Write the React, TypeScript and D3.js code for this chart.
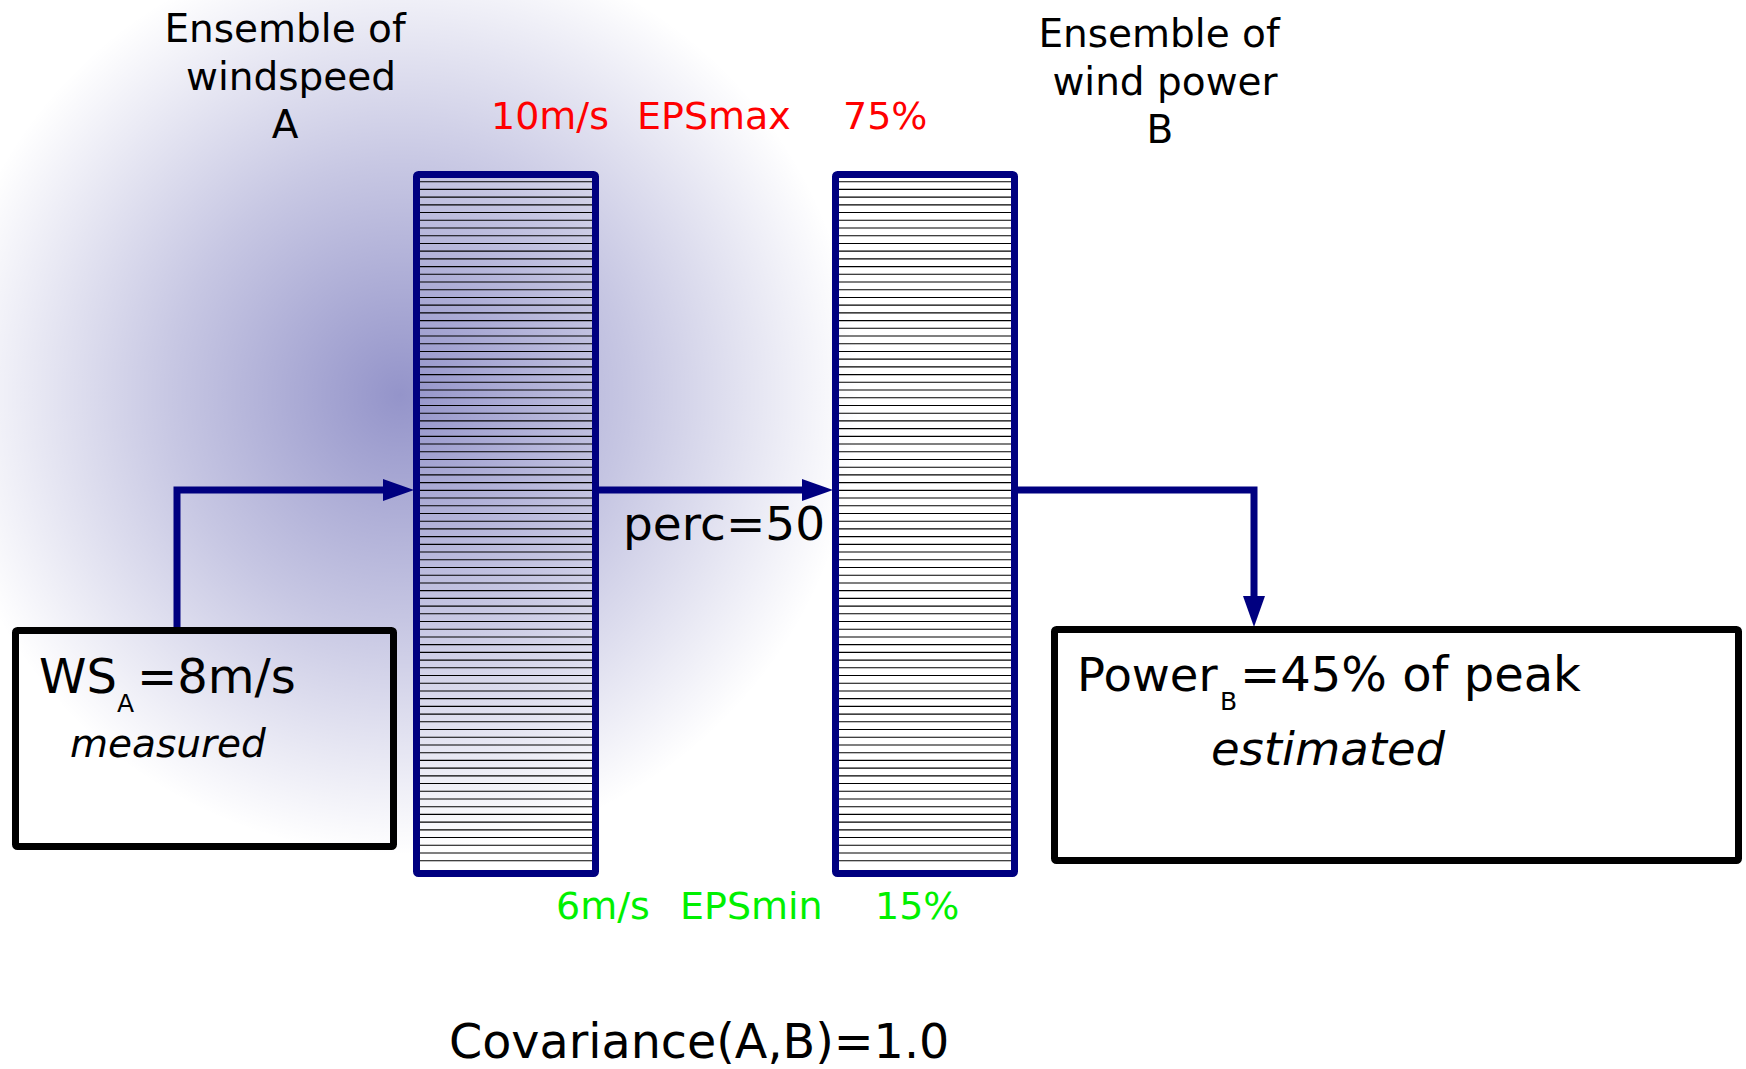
import React from "react";
import * as d3 from "d3";

// ---- content ----
const ensembleA = ["Ensemble of", "windspeed", "A"];
const ensembleB = ["Ensemble of", "wind power", "B"];
const maxLabels = ["10m/s", "EPSmax", "75%"];
const minLabels = ["6m/s", "EPSmin", "15%"];
const percentileLabel = "perc=50";
const measuredWS = "=8m/s";
const estimatedPower = "=45% of peak";
const covarianceLabel = "Covariance(A,B)=1.0";
const hatchCount = 89;

const W = 1746;
const H = 1069;
const NAVY = "#000080";
const FONT = "'DejaVu Sans', Verdana, sans-serif";

function Hatch({ x0, x1, y0, y1 }: { x0: number; x1: number; y0: number; y1: number }) {
  const y = d3.scaleLinear().domain([0, hatchCount - 1]).range([y0, y1]);
  return (
    <g>
      {d3.range(hatchCount).map((i) => (
        <line key={i} x1={x0} x2={x1} y1={y(i)} y2={y(i)} stroke="#000" strokeWidth={1.1} />
      ))}
    </g>
  );
}

function Arrow({ pts, tip, dir }: { pts: [number, number][]; tip: [number, number]; dir: "right" | "down" }) {
  const line = d3.line();
  const L = 31, hw = 11;
  const [tx, ty] = tip;
  const head: [number, number][] =
    dir === "right"
      ? [[tx, ty], [tx - L, ty - hw], [tx - L, ty + hw]]
      : [[tx, ty], [tx - hw, ty - L], [tx + hw, ty - L]];
  return (
    <g>
      <path d={line(pts) || ""} fill="none" stroke={NAVY} strokeWidth={7} strokeLinejoin="miter" />
      <path d={(line(head) || "") + "Z"} fill={NAVY} stroke="none" />
    </g>
  );
}

export default function App() {
  return (
    <svg
      width={W}
      height={H}
      viewBox={`0 0 ${W} ${H}`}
      style={{ position: "absolute", left: 0, top: 0, display: "block", background: "#fff" }}
      fontFamily={FONT}
    >
      <defs>
        <radialGradient id="glow" gradientUnits="userSpaceOnUse" cx={400} cy={395} r={460}>
          <stop offset="0" stopColor={NAVY} stopOpacity={0.42} />
          <stop offset="0.5" stopColor={NAVY} stopOpacity={0.22} />
          <stop offset="1" stopColor={NAVY} stopOpacity={0} />
        </radialGradient>
      </defs>
      <rect x={0} y={0} width={W} height={H} fill="#fff" />
      <rect x={0} y={0} width={W} height={H} fill="url(#glow)" />

      {/* Ensemble labels */}
      <g fontSize={39} fill="#000" textAnchor="middle">
        <text x={285} y={42}>{ensembleA[0]}</text>
        <text x={291} y={90}>{ensembleA[1]}</text>
        <text x={285} y={138}>{ensembleA[2]}</text>
        <text x={1159} y={47}>{ensembleB[0]}</text>
        <text x={1165} y={95}>{ensembleB[1]}</text>
        <text x={1160} y={143}>{ensembleB[2]}</text>
      </g>

      {/* EPS max / min */}
      <g fontSize={38} fill="#ff0000">
        <text x={491} y={129}>{maxLabels[0]}</text>
        <text x={637} y={129}>{maxLabels[1]}</text>
        <text x={843} y={129}>{maxLabels[2]}</text>
      </g>
      <g fontSize={38} fill="#00f000">
        <text x={556} y={919}>{minLabels[0]}</text>
        <text x={680} y={919}>{minLabels[1]}</text>
        <text x={875} y={919}>{minLabels[2]}</text>
      </g>

      {/* hatched ensemble bars */}
      <Hatch x0={420} x1={593} y0={181.7} y1={860.7} />
      <Hatch x0={839} x1={1011} y0={181.7} y1={860.7} />
      <rect x={416.5} y={174.5} width={179} height={699} fill="none" stroke={NAVY} strokeWidth={7} rx={2} />
      <rect x={835.5} y={174.5} width={179} height={699} fill="none" stroke={NAVY} strokeWidth={7} rx={2} />

      {/* arrows */}
      <Arrow pts={[[177, 630], [177, 490], [386, 490]]} tip={[414, 490]} dir="right" />
      <Arrow pts={[[599, 490], [805, 490]]} tip={[833, 490]} dir="right" />
      <Arrow pts={[[1018, 490], [1254, 490], [1254, 600]]} tip={[1254, 627]} dir="down" />

      <text x={623} y={540} fontSize={47} fill="#000">{percentileLabel}</text>

      {/* measured box */}
      <rect x={15.5} y={630.5} width={378} height={216} fill="none" stroke="#000" strokeWidth={7} rx={2} />
      <text x={39} y={693} fontSize={48} fill="#000">WS</text>
      <text x={117} y={712} fontSize={25} fill="#000">A</text>
      <text x={137} y={693} fontSize={48} fill="#000">{measuredWS}</text>
      <text x={70} y={757} fontSize={39} fontStyle="italic" fill="#000">measured</text>

      {/* estimated box */}
      <rect x={1054.5} y={629.5} width={684} height={231} fill="none" stroke="#000" strokeWidth={7} rx={2} />
      <text x={1077} y={691} fontSize={46.5} fill="#000">Power</text>
      <text x={1220} y={710} fontSize={25} fill="#000">B</text>
      <text x={1240} y={691} fontSize={48} fill="#000">{estimatedPower}</text>
      <text x={1211} y={765} fontSize={46.5} fontStyle="italic" fill="#000">estimated</text>

      <text x={449} y={1058} fontSize={47.6} fill="#000">{covarianceLabel}</text>
    </svg>
  );
}
